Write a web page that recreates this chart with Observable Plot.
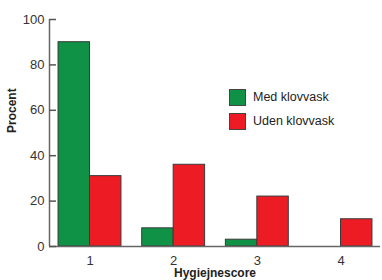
<!DOCTYPE html>
<html><head><meta charset="utf-8">
<script src="https://cdn.jsdelivr.net/npm/d3@7"></script>
<script src="https://cdn.jsdelivr.net/npm/@observablehq/plot@0.6"></script>
<style>
body{margin:0;background:#fff;font-family:"Liberation Sans",Arial,sans-serif;}
#wrap{position:relative;width:382px;height:280px;}
.legend{position:absolute;left:229px;top:85px;font-size:12.5px;color:#222;}
.legend div{display:flex;align-items:center;height:24px;}
.legend span.sw{display:inline-block;width:17px;height:17px;border:1px solid #444;margin-right:7px;box-sizing:border-box;}
</style></head>
<body><div id="wrap"><div class="legend" id="legend"></div></div>
<script>
const scores = [1, 2, 3, 4];
const series = ["Med klovvask", "Uden klovvask"];
const medValues = [90, 8, 3, 0];
const udenValues = [31, 36, 22, 12];
const yTicks = [0, 20, 40, 60, 80, 100];
const colors = ["#0f9146", "#ed1c24"];
const barW = 0.376;

const data = [];
scores.forEach((s, i) => {
  data.push({score: s, series: series[0], value: medValues[i], x1: s - barW, x2: s});
  data.push({score: s, series: series[1], value: udenValues[i], x1: s, x2: s + barW});
});
const xDomain = [0.516, 4.472];

const chart = Plot.plot({
  width: 382, height: 280,
  marginLeft: 49, marginRight: 2, marginTop: 19, marginBottom: 34,
  style: {fontFamily: "'Liberation Sans', Arial, sans-serif", fontSize: "12.5px", color: "#333"},
  x: {domain: xDomain},
  y: {domain: [0, 100]},
  color: {domain: series, range: colors},
  marks: [
    Plot.rectY(data, {x1: "x1", x2: "x2", y: "value", fill: "series", stroke: "#3a3a3a", strokeWidth: 1}),
    Plot.ruleY([0], {stroke: "#666", strokeWidth: 1.5}),
    Plot.ruleX([xDomain[0]], {stroke: "#666", strokeWidth: 1.5}),
    Plot.axisY({ticks: yTicks, tickSize: 7, dx: 7, tickPadding: 5, stroke: "#555", strokeWidth: 1.5, label: null, fontSize: 13}),
    Plot.axisX({ticks: scores, tickFormat: d3.format("d"), tickSize: 0, tickPadding: 9, label: null, fontSize: 13}),
    Plot.text(["Hygiejnescore"], {frameAnchor: "bottom", dy: 30, fontWeight: "bold", fontSize: 12, fill: "#222"}),
    Plot.text(["Procent"], {frameAnchor: "left", rotate: -90, dx: -37, fontWeight: "bold", fontSize: 12, fill: "#222"})
  ]
});
document.getElementById("wrap").prepend(chart);
const lg = document.getElementById("legend");
series.forEach((s, i) => {
  const d = document.createElement("div");
  d.innerHTML = `<span class="sw" style="background:${colors[i]}"></span>${s}`;
  lg.appendChild(d);
});
</script></body></html>
